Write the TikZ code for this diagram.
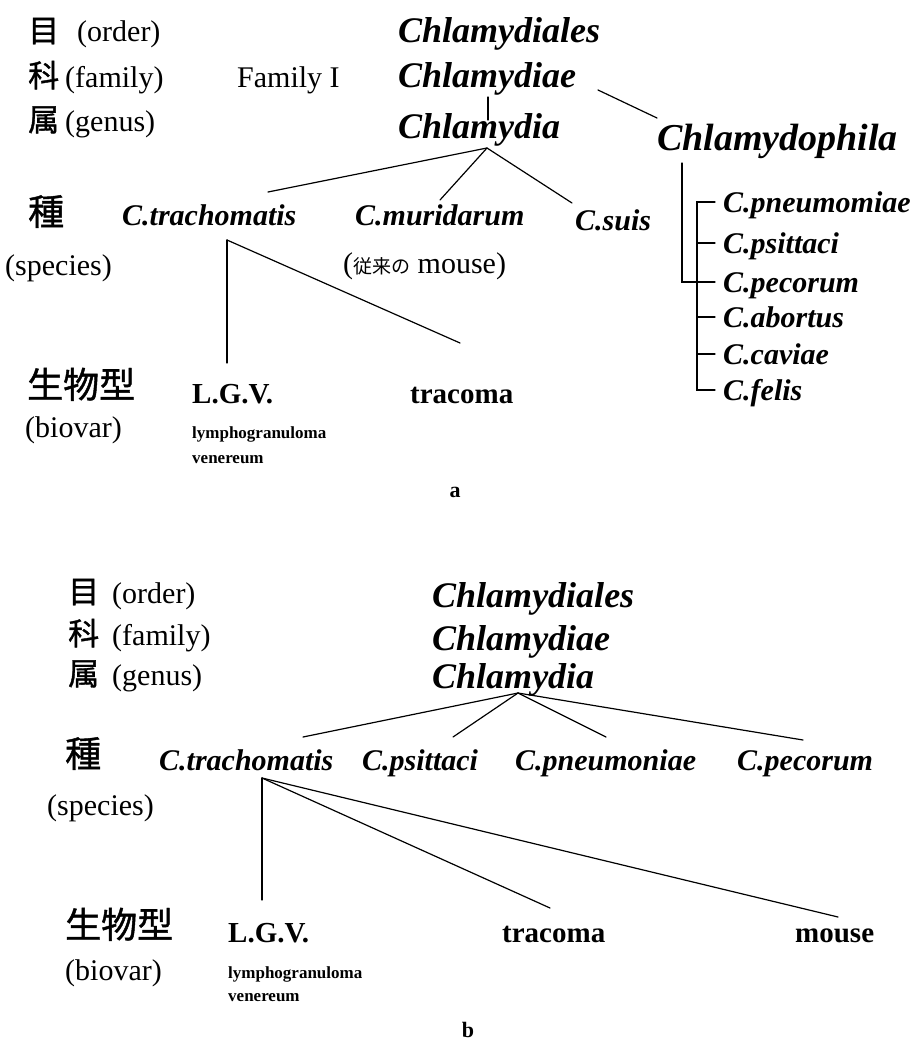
\documentclass[tikz,border=0pt]{standalone}
\usepackage{fontspec}
\setmainfont{Liberation Serif}
\newfontfamily\jpfont[FakeBold=1.2]{Noto Sans CJK JP}
\newfontfamily\jpthin{Noto Sans CJK JP}
\newcommand\TaxBig{\fontsize{36}{36}\selectfont\bfseries\itshape}
\newcommand\TaxSp{\fontsize{30}{30}\selectfont\bfseries\itshape}
\newcommand\LabFont{\fontsize{30}{30}\selectfont}
\newcommand\BioFont{\fontsize{29}{29}\selectfont\bfseries}
\newcommand\SmallBio{\fontsize{17}{17}\selectfont\bfseries}
\newcommand\JpMid{\jpfont\fontsize{31}{31}\selectfont}
\newcommand\JpBig{\jpfont\fontsize{36}{36}\selectfont}
\begin{document}
\begin{tikzpicture}[x=1pt,y=-1pt,
  t/.style={inner sep=0pt, anchor=base west},
  ln/.style={line width=1.2pt, line cap=round, line join=miter}]
\useasboundingbox (0,0) rectangle (921,1041);
% ---------------- part a ----------------
\node[t] (ja1) at (28,42) {\JpMid 目};
\node[t] (la1) at (77,42) {\LabFont (order)};
\node[t] (ja2) at (28,87) {\JpMid 科};
\node[t] (la2) at (65,87) {\LabFont (family)};
\node[t] (ja3) at (28,131) {\JpMid 属};
\node[t] (la3) at (65,131) {\LabFont (genus)};
\node[t] (fam) at (237,87) {\LabFont Family I};
\node[t] (cdls) at (398,43) {\TaxBig Chlamydiales};
\node[t] (cdiae) at (398,88) {\TaxBig Chlamydiae};
\node[t] (cdia) at (398,138) {\TaxBig Chlamydia};
\node[t] (cph) at (657,150) {\fontsize{38}{38}\selectfont\bfseries\itshape Chlamydophila};
\node[t] (ja4) at (28,225) {\JpBig 種};
\node[t] (la4) at (5,275) {\LabFont (species)};
\node[t] (ct) at (122,225) {\TaxSp C.trachomatis};
\node[t] (cm) at (355,225) {\TaxSp C.muridarum};
\node[t] (cs) at (575,230) {\TaxSp C.suis};
\node[t] (mus) at (343,273) {\LabFont ({\jpthin\fontsize{19}{19}\selectfont 従来の} mouse)};
\node[t] (ja5) at (27,398) {\JpBig 生物型};
\node[t] (la5) at (25,437) {\LabFont (biovar)};
\node[t] (lgv) at (192,403) {\BioFont L.G.V.};
\node[t] (lym) at (192,438) {\SmallBio lymphogranuloma};
\node[t] (ven) at (192,463) {\SmallBio venereum};
\node[t] (tra) at (410,403) {\BioFont tracoma};
\node[t] (pn) at (723,212) {\TaxSp C.pneumomiae};
\node[t] (ps) at (723,253) {\TaxSp C.psittaci};
\node[t] (pe) at (723,292) {\TaxSp C.pecorum};
\node[t] (ab) at (723,327) {\TaxSp C.abortus};
\node[t] (cv) at (723,364) {\TaxSp C.caviae};
\node[t] (fe) at (723,400) {\TaxSp C.felis};
\node[inner sep=0pt] (capa) at (455,492) {\fontsize{22}{22}\selectfont\bfseries a};
% connectors a
\draw[ln] ([xshift=90pt,yshift=-9pt]cdiae.base west) -- ([xshift=90pt,yshift=18pt]cdia.base west);
\draw[ln] ([xshift=200pt,yshift=-2pt]cdiae.base west) -- ([yshift=32pt]cph.base west);
\coordinate (va) at ([xshift=89pt,yshift=-10pt]cdia.base west);
\draw[ln] (va) -- ([xshift=146pt,yshift=33pt]ct.base west);
\draw[ln] (va) -- ([xshift=85pt,yshift=25pt]cm.base west);
\draw[ln] (va) -- ([xshift=-3pt,yshift=27pt]cs.base west);
\coordinate (vt) at ([xshift=105pt,yshift=-15pt]ct.base west);
\draw[ln] (vt) -- ([xshift=35pt,yshift=40pt]lgv.base west);
\draw[ln] (vt) -- ([xshift=50pt,yshift=60pt]tra.base west);
\draw[ln] ([xshift=25pt,yshift=-13pt]cph.base west) |- ([xshift=-8pt,yshift=10pt]pe.base west);
\draw[ln] ([xshift=-8pt,yshift=10pt]pn.base west) -- ++(-18,0) |- ([xshift=-8pt,yshift=10pt]fe.base west);
\draw[ln] ([xshift=-8pt,yshift=10pt]ps.base west) -- ++(-18,0);
\draw[ln] ([xshift=-8pt,yshift=10pt]ab.base west) -- ++(-18,0);
\draw[ln] ([xshift=-8pt,yshift=10pt]cv.base west) -- ++(-18,0);
% ---------------- part b ----------------
\node[t] (jb1) at (68,603) {\JpMid 目};
\node[t] (lb1) at (112,603) {\LabFont (order)};
\node[t] (jb2) at (68,645) {\JpMid 科};
\node[t] (lb2) at (112,645) {\LabFont (family)};
\node[t] (jb3) at (68,685) {\JpMid 属};
\node[t] (lb3) at (112,685) {\LabFont (genus)};
\node[t] (bdls) at (432,607) {\TaxBig Chlamydiales};
\node[t] (bdiae) at (432,650) {\TaxBig Chlamydiae};
\node[t] (bdia) at (432,688) {\TaxBig Chlamydia};
\node[t] (jb4) at (65,767) {\JpBig 種};
\node[t] (lb4) at (47,815) {\LabFont (species)};
\node[t] (bct) at (159,770) {\TaxSp C.trachomatis};
\node[t] (bps) at (362,770) {\TaxSp C.psittaci};
\node[t] (bpn) at (515,770) {\TaxSp C.pneumoniae};
\node[t] (bpe) at (737,770) {\TaxSp C.pecorum};
\node[t] (jb5) at (65,938) {\JpBig 生物型};
\node[t] (lb5) at (65,980) {\LabFont (biovar)};
\node[t] (blgv) at (228,942) {\BioFont L.G.V.};
\node[t] (blym) at (228,978) {\SmallBio lymphogranuloma};
\node[t] (bven) at (228,1001) {\SmallBio venereum};
\node[t] (btra) at (502,942) {\BioFont tracoma};
\node[t] (bmo) at (795,942) {\BioFont mouse};
\node[inner sep=0pt] (capb) at (468,1030) {\fontsize{22}{22}\selectfont\bfseries b};
% connectors b
\coordinate (vb) at ([xshift=86pt,yshift=-5pt]bdia.base west);
\draw[ln] (vb) -- ([xshift=144pt,yshift=33pt]bct.base west);
\draw[ln] (vb) -- ([xshift=91pt,yshift=33pt]bps.base west);
\draw[ln] (vb) -- ([xshift=91pt,yshift=33pt]bpn.base west);
\draw[ln] (vb) -- ([xshift=66pt,yshift=30pt]bpe.base west);
\coordinate (vbt) at ([xshift=103pt,yshift=-8pt]bct.base west);
\draw[ln] (vbt) -- ([xshift=34pt,yshift=42pt]blgv.base west);
\draw[ln] (vbt) -- ([xshift=48pt,yshift=34pt]btra.base west);
\draw[ln] (vbt) -- ([xshift=43pt,yshift=25pt]bmo.base west);
\end{tikzpicture}
\end{document}
